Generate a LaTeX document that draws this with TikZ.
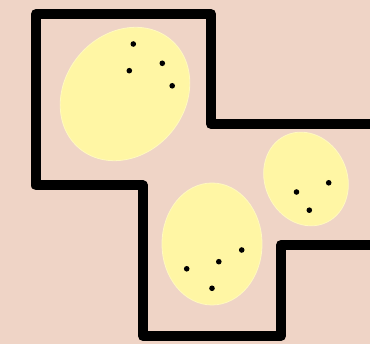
\documentclass[tikz,border=0pt]{standalone}
\usepackage{tikz}
\definecolor{cBack}{HTML}{EFD4C6}
\definecolor{cBlob}{HTML}{FFF6A4}
\definecolor{cBlobEdge}{HTML}{FFF9C0}
\definecolor{cWall}{HTML}{000000}

\begin{document}
\begin{tikzpicture}[x=1pt,y=-1pt,
    wall/.style={draw=cWall,line width=10pt,line join=round},
    blob/.style={fill=cBlob,draw=cBlobEdge,line width=0.8pt},
    dot/.style={fill=black}]
  \def\dr{2.8}
  % page and background
  \fill[cBack] (0,0) rectangle (370,344);
  \useasboundingbox (0,0) rectangle (370,344);
  % clusters
  \fill[blob,rotate around={-40:(125,94)}] (125,94) ellipse (60 and 71);
  \fill[blob] (212,244) ellipse (50 and 61);
  \fill[blob,rotate around={25:(306,179)}] (306,179) ellipse (41 and 48);
  % points of the big cluster
  \foreach \p in {(133.3,44),(162.3,63.3),(129.3,70.7),(172.2,85.8)}
    \fill[dot] \p circle (\dr);
  % points of the lower cluster
  \foreach \p in {(241.7,250),(218.8,261.7),(186.7,268.8),(212,288.3)}
    \fill[dot] \p circle (\dr);
  % points of the right cluster
  \foreach \p in {(328.7,182.8),(296.5,192),(309.3,210.2)}
    \fill[dot] \p circle (\dr);
  % the outline
  \draw[wall] (375,124) -- (211,124) -- (211,14) -- (36,14) -- (36,185.5)
    -- (143,185.5) -- (143,336) -- (281,336) -- (281,245) -- (375,245);
\end{tikzpicture}
\end{document}
